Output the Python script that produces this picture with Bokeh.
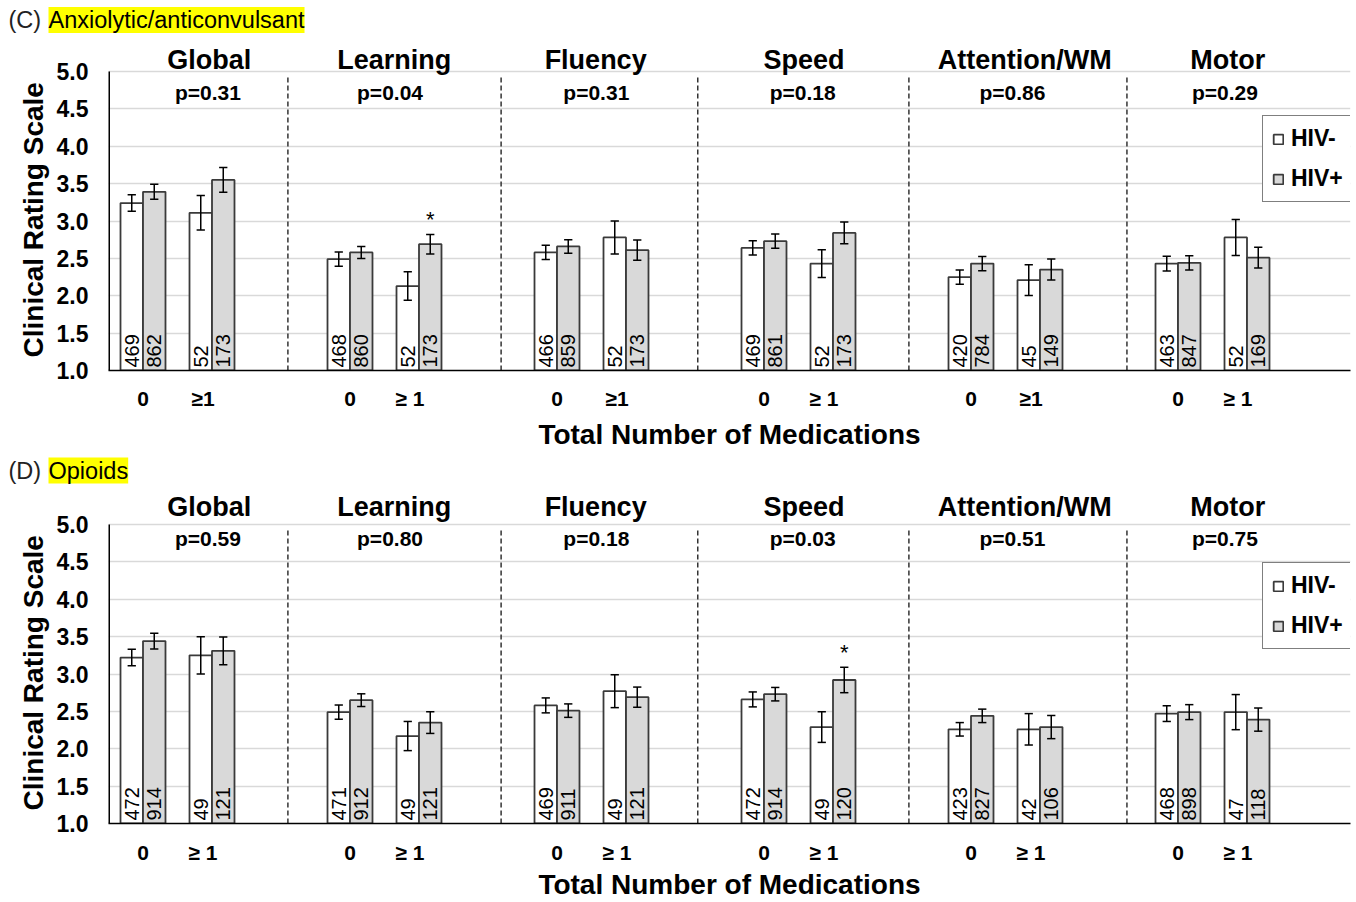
import numpy as np
from bokeh.plotting import figure
from bokeh.models import (Range1d, FixedTicker, NumeralTickFormatter, Label, Legend,
                          LegendItem, Title)
from bokeh.layouts import column, row
from bokeh.embed import file_html
from bokeh.resources import INLINE
from bokeh.core.properties import value

# ---------------- data ----------------
DOMAINS = ["Global", "Learning", "Fluency", "Speed", "Attention/WM", "Motor"]
SERIES = ["HIV-", "HIV+"]

C_TAG = "(C)"
C_NAME = "Anxiolytic/anticonvulsant"
C_PVALS = ["p=0.31", "p=0.04", "p=0.31", "p=0.18", "p=0.86", "p=0.29"]
C_TICKS = ["0", "≥1", "0", "≥ 1", "0", "≥1", "0", "≥ 1", "0", "≥1", "0", "≥ 1"]
C_NEG_MEAN = [3.24, 3.11, 2.49, 2.13, 2.58, 2.78, 2.64, 2.43, 2.25, 2.21, 2.43, 2.78]
C_NEG_ERR = [0.11, 0.23, 0.095, 0.19, 0.095, 0.22, 0.095, 0.185, 0.095, 0.205, 0.10, 0.24]
C_POS_MEAN = [3.39, 3.55, 2.58, 2.69, 2.66, 2.61, 2.73, 2.84, 2.43, 2.35, 2.44, 2.51]
C_POS_ERR = [0.10, 0.165, 0.08, 0.13, 0.09, 0.135, 0.095, 0.145, 0.095, 0.14, 0.095, 0.14]
C_NEG_N = [469, 52, 468, 52, 466, 52, 469, 52, 420, 45, 463, 52]
C_POS_N = [862, 173, 860, 173, 859, 173, 861, 173, 784, 149, 847, 169]
C_POS_SIG = [False, False, False, True, False, False, False, False, False, False, False, False]

D_TAG = "(D)"
D_NAME = "Opioids"
D_PVALS = ["p=0.59", "p=0.80", "p=0.18", "p=0.03", "p=0.51", "p=0.75"]
D_TICKS = ["0", "≥ 1"] * 6
D_NEG_MEAN = [3.22, 3.25, 2.49, 2.17, 2.58, 2.77, 2.66, 2.29, 2.26, 2.26, 2.47, 2.49]
D_NEG_ERR = [0.11, 0.25, 0.095, 0.195, 0.10, 0.22, 0.10, 0.205, 0.09, 0.21, 0.105, 0.235]
D_POS_MEAN = [3.44, 3.31, 2.65, 2.35, 2.51, 2.69, 2.73, 2.92, 2.44, 2.29, 2.49, 2.39]
D_POS_ERR = [0.105, 0.185, 0.085, 0.145, 0.09, 0.135, 0.09, 0.17, 0.09, 0.155, 0.10, 0.155]
D_NEG_N = [472, 49, 471, 49, 469, 49, 472, 49, 423, 42, 468, 47]
D_POS_N = [914, 121, 912, 121, 911, 121, 914, 120, 827, 106, 898, 118]
D_POS_SIG = [False, False, False, False, False, False, False, True, False, False, False, False]

# ---------------- layout / style ----------------
FONT = "Liberation Sans"
W = 1356
LEFT = 108
RIGHT = 6
PX_PER_UNIT = 74.75
HEAD_H = 40
BW = 0.326          # bar width in category slots
CAP = 0.06          # half width of error caps
SLOTS = [3 * g + k for g in range(6) for k in range(2)]
TICK_POS = [round(s - (0.13 if i % 2 else 0.0), 3) for i, s in enumerate(SLOTS)]
SEPS = [2.10, 5.19, 8.04, 11.10, 14.26]
TITLE_DX = [0.46, 0.14, 0.06, 0.08, 0.28, 0.22]
P_DX = [0.44, 0.08, 0.07, 0.06, 0.10, 0.18]


def header(tag, name, yc):
    h = figure(width=W, height=HEAD_H, x_range=Range1d(0, W), y_range=Range1d(0, HEAD_H),
               output_backend="svg", toolbar_location=None, min_border=0,
               min_border_left=0, min_border_right=0, min_border_top=0, min_border_bottom=0,
               x_axis_location=None, y_axis_location=None)
    h.grid.visible = False
    h.outline_line_color = None
    h.add_layout(Label(x=8, y=yc, text=tag, text_align="left", text_baseline="middle",
                       text_font=FONT, text_font_size="23.5px", text_color="#222222"))
    h.add_layout(Label(x=48, y=yc, text=name, text_align="left", text_baseline="middle",
                       text_font=FONT, text_font_size="23.5px", text_color="black",
                       background_fill_color="#ffff00"))
    return h


def panel(pvals, ticks, nm, ne, pm, pe, nn, pn, sig, height, frame_px, bbot,
          tick_so, lab_so, title_y, p_y, legend_y):
    ytop = 1.0 + frame_px / PX_PER_UNIT
    p = figure(width=W, height=height, x_range=Range1d(-0.5, 17.5), y_range=Range1d(1.0, ytop),
               output_backend="svg", toolbar_location=None,
               min_border_left=LEFT, min_border_right=RIGHT,
               min_border_top=0, min_border_bottom=bbot)
    p.outline_line_color = None
    p.xgrid.visible = False
    yt = [1.0, 1.5, 2.0, 2.5, 3.0, 3.5, 4.0, 4.5, 5.0]
    p.ygrid.ticker = FixedTicker(ticks=yt)
    p.ygrid.grid_line_color = "#d9d9d9"
    p.ygrid.grid_line_width = 1.5

    # y axis (line drawn separately so it stops at 5.0)
    ya = p.yaxis[0]
    ya.ticker = FixedTicker(ticks=yt)
    ya.formatter = NumeralTickFormatter(format="0.0")
    ya.axis_line_color = None
    ya.major_tick_line_color = None
    ya.minor_tick_line_color = None
    ya.major_tick_out = 0
    ya.major_tick_in = 0
    ya.major_label_standoff = 20
    ya.major_label_text_font = FONT
    ya.major_label_text_font_style = "bold"
    ya.major_label_text_font_size = "23px"
    ya.major_label_text_color = "black"
    p.add_layout(Title(text="Clinical Rating Scale", align="left", offset=13,
                       text_font=FONT, text_font_style="bold", text_font_size="28px",
                       text_color="black"), "left")
    p.segment(x0=[-0.5], y0=[1.0], x1=[-0.5], y1=[5.0], line_color="black", line_width=3)

    # x axis
    xa = p.xaxis[0]
    xa.ticker = FixedTicker(ticks=TICK_POS)
    xa.major_label_overrides = {s: t for s, t in zip(TICK_POS, ticks)}
    xa.axis_line_color = "black"
    xa.axis_line_width = 1.5
    xa.major_tick_line_color = None
    xa.minor_tick_line_color = None
    xa.major_tick_out = 0
    xa.major_tick_in = 0
    xa.major_label_standoff = tick_so
    xa.major_label_text_font = FONT
    xa.major_label_text_font_style = "bold"
    xa.major_label_text_font_size = "21px"
    xa.major_label_text_color = "black"
    xa.axis_label = "Total Number of Medications"
    xa.axis_label_text_font = FONT
    xa.axis_label_text_font_style = "bold"
    xa.axis_label_text_font_size = "28px"
    xa.axis_label_text_color = "black"
    xa.axis_label_standoff = lab_so

    # separators
    p.segment(x0=SEPS, y0=[1.0] * len(SEPS), x1=SEPS, y1=[4.92] * len(SEPS),
              line_color="#333333", line_width=1.5, line_dash="5 3")

    xs = np.array(SLOTS, dtype=float)
    xn = xs - BW / 2
    xp = xs + BW / 2
    nm, ne, pm, pe = map(np.array, (nm, ne, pm, pe))

    rn = p.vbar(x=xn, top=nm, bottom=1.0, width=BW, fill_color="white",
                line_color="#3a3a3a", line_width=1.8)
    rp = p.vbar(x=xp, top=pm, bottom=1.0, width=BW, fill_color="#d9d9d9",
                line_color="#3a3a3a", line_width=1.8)

    # error bars
    for x, m, e in ((xn, nm, ne), (xp, pm, pe)):
        p.segment(x0=x, y0=m - e, x1=x, y1=m + e, line_color="black", line_width=1.5)
        p.segment(x0=x - CAP, y0=m + e, x1=x + CAP, y1=m + e, line_color="black", line_width=1.5)
        p.segment(x0=x - CAP, y0=m - e, x1=x + CAP, y1=m - e, line_color="black", line_width=1.5)

    # n labels
    for x, n in ((xn, nn), (xp, pn)):
        p.text(x=x, y=[1.04] * len(x), text=[str(v) for v in n], angle=np.pi / 2,
               text_align="left", text_baseline="middle", text_font=value(FONT),
               text_font_size="20px", text_color="black")

    # significance stars
    sx = [xp[i] for i in range(len(sig)) if sig[i]]
    sy = [pm[i] + pe[i] + 0.2 for i in range(len(sig)) if sig[i]]
    p.text(x=sx, y=sy, text=["*"] * len(sx), text_align="center", text_baseline="alphabetic",
           text_font=value(FONT), text_font_size="22px", text_color="black")

    # domain titles and p-values
    for g in range(6):
        p.add_layout(Label(x=3 * g + 0.5 + TITLE_DX[g], y=title_y, text=DOMAINS[g],
                           text_align="center", text_baseline="middle", text_font=FONT,
                           text_font_style="bold", text_font_size="27px", text_color="black"))
        p.add_layout(Label(x=3 * g + 0.5 + P_DX[g], y=p_y, text=pvals[g],
                           text_align="center", text_baseline="middle", text_font=FONT,
                           text_font_style="bold", text_font_size="21px", text_color="black"))

    legend = Legend(items=[LegendItem(label=SERIES[0], renderers=[rn]),
                           LegendItem(label=SERIES[1], renderers=[rp])],
                    location=(1154, legend_y), orientation="vertical",
                    border_line_color="black", border_line_width=1.5,
                    background_fill_color="white", background_fill_alpha=1.0,
                    label_text_font=FONT, label_text_font_style="bold",
                    label_text_font_size="23px", label_text_color="black",
                    glyph_width=12, glyph_height=12, label_standoff=7,
                    spacing=13, padding=9, margin=0)
    p.add_layout(legend)
    return p


hc = header(C_TAG, C_NAME, 20.5)
pc = panel(C_PVALS, C_TICKS, C_NEG_MEAN, C_NEG_ERR, C_POS_MEAN, C_POS_ERR,
           C_NEG_N, C_POS_N, C_POS_SIG, height=412, frame_px=330, bbot=82,
           tick_so=16, lab_so=6, title_y=5.16, p_y=4.72, legend_y=168)
hd = header(D_TAG, D_NAME, 22)
pd_ = panel(D_PVALS, D_TICKS, D_NEG_MEAN, D_NEG_ERR, D_POS_MEAN, D_POS_ERR,
            D_NEG_N, D_POS_N, D_POS_SIG, height=410, frame_px=331, bbot=79,
            tick_so=17, lab_so=2, title_y=5.237, p_y=4.81, legend_y=174)

layout = column(row(hc), pc, row(hd), pd_, spacing=0)
open("out.html", "w").write(file_html(layout, INLINE))
